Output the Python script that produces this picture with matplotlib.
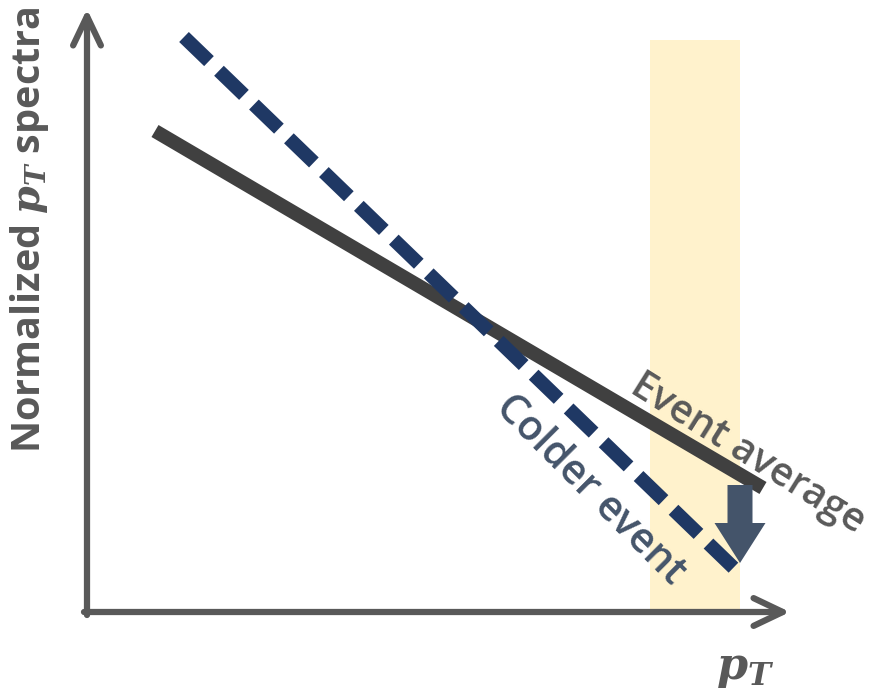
import matplotlib
matplotlib.use('Agg')
import matplotlib.pyplot as plt

plt.rcParams['font.family'] = ['Open Sans', 'DejaVu Sans']
plt.rcParams['mathtext.fontset'] = 'dejavuserif'

# schematic coordinates (pixel-like units, y grows downwards)
avg_x = [155, 763]
avg_y = [131, 488]
cold_x = [184, 740]
cold_y = [37, 574]
band_x = [650, 740]
band_y = [40, 612]
yaxis_x = [87, 87]
yaxis_y = [615, 9]
xaxis_x = [84, 790]
xaxis_y = [612, 612]
drop_x = 740
drop_y = [485, 563]

fig = plt.figure(figsize=(8.79, 6.92), dpi=100)
ax = fig.add_axes([0, 0, 1, 1])
ax.set_xlim(0, 879)
ax.set_ylim(692, 0)
ax.axis('off')

# highlighted pT region
ax.fill_between(band_x, band_y[0], band_y[1], color='#FFF2CC', lw=0, zorder=1)

# axes with open arrow heads
arr = dict(arrowstyle='->,head_length=2.1,head_width=1.0', lw=4.5, color='#595959',
           capstyle='round', joinstyle='round', shrinkA=0, shrinkB=0)
ax.annotate('', xy=(yaxis_x[1], yaxis_y[1]), xytext=(yaxis_x[0], yaxis_y[0]), arrowprops=arr, zorder=2)
ax.annotate('', xy=(xaxis_x[1], xaxis_y[1]), xytext=(xaxis_x[0], xaxis_y[0]), arrowprops=arr, zorder=2)

# spectra
ax.plot(avg_x, avg_y, color='#404040', lw=10, solid_capstyle='butt', zorder=3)
ax.plot(cold_x, cold_y, color='#1F3864', lw=10, dashes=(2.5, 1.0), dash_capstyle='butt', zorder=3)

# block arrow showing the drop
ax.arrow(drop_x, drop_y[0], 0, drop_y[1] - drop_y[0], width=25, head_width=51, head_length=40,
         length_includes_head=True, color='#44546A', lw=0, zorder=4)

ax.text(748, 454, 'Event average', rotation=-32, ha='center', va='center',
        fontsize=28.5, fontweight='semibold', color='#595959', rotation_mode='anchor', zorder=5)
ax.text(590, 490, 'Colder event', rotation=-45, ha='center', va='center',
        fontsize=29.5, fontweight='semibold', color='#44546A', rotation_mode='anchor', zorder=5)

ax.text(30, 230, r'Normalized $\boldsymbol{p}_{\boldsymbol{T}}$ spectra', rotation=90,
        ha='center', va='center', fontsize=28.5, fontweight='bold', color='#595959')
ax.text(745, 668, r'$\boldsymbol{p}_{\boldsymbol{T}}$', ha='center', va='center',
        fontsize=32, color='#595959')

fig.savefig('out.png', dpi=100)
